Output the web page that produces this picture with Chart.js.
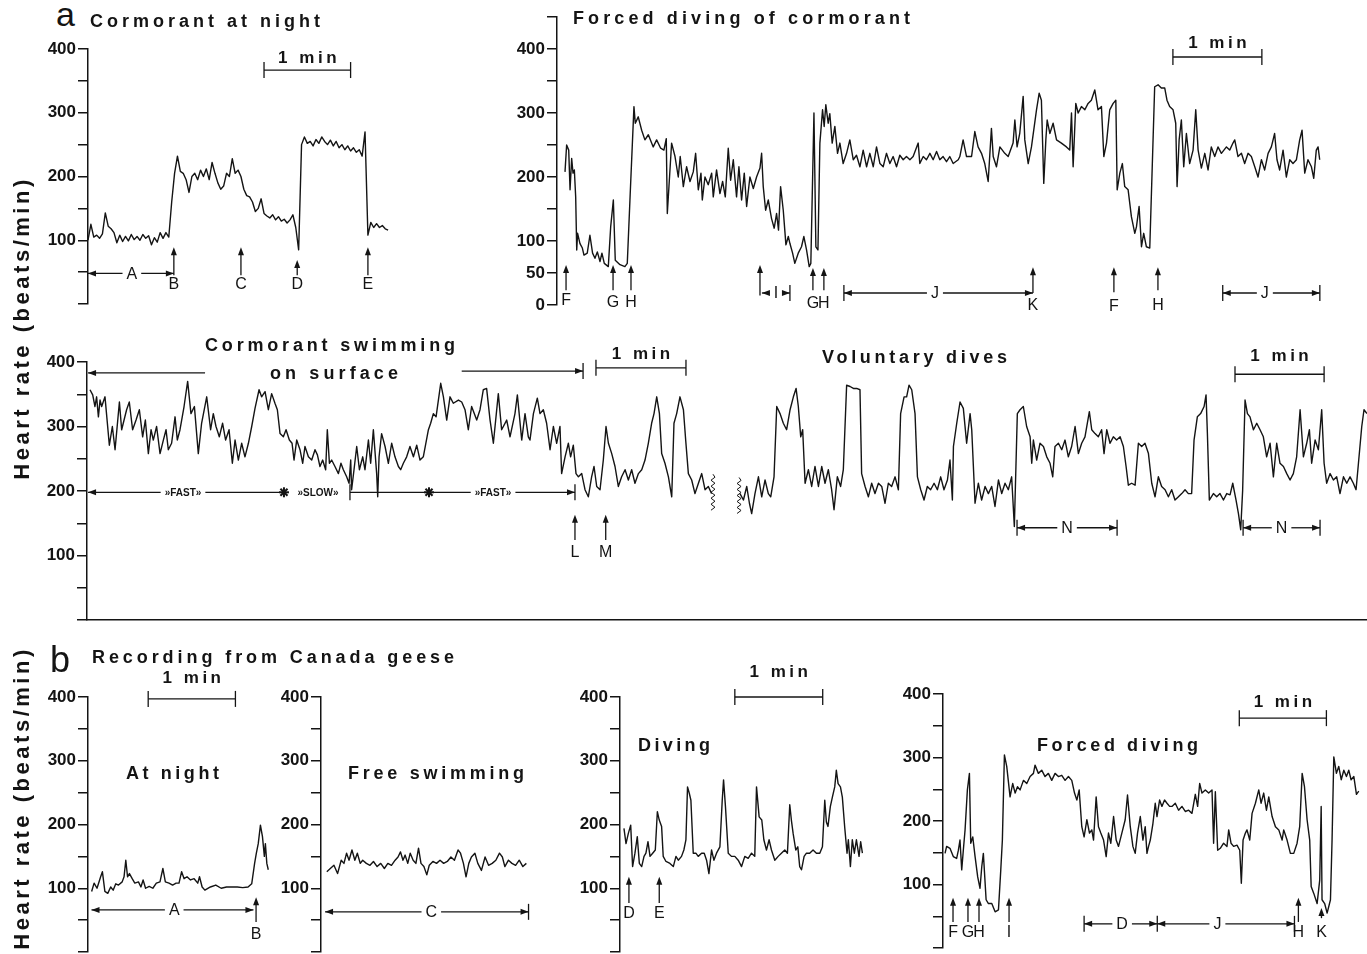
<!DOCTYPE html>
<html>
<head>
<meta charset="utf-8">
<script src="https://cdn.jsdelivr.net/npm/chart.js@4"></script>
<style>
  body { margin: 0; background: #fff; }
  #fig { position: relative; width: 1367px; height: 954px; overflow: hidden; background: #fff;
         font-family: "Liberation Sans", Arial, sans-serif; color: #141414; }
  #fig canvas { position: absolute; }
  .t { position: absolute; white-space: nowrap; line-height: 1; z-index: 2; }
</style>
</head>
<body>
<div id="fig"></div>
<script>
// ---- heart rate traces (time in s, heart rate in beats/min) ----

// a: cormorant at night, sampled every 2 s
const nightCormStep = 2;
const nightCormHR = [100,125,105,108,103,110,143,122,118,112,96,108,98,106,99,109,101,106,100,109,
  103,107,93,104,97,112,103,112,105,160,205,232,208,205,195,175,200,205,195,210,
  200,212,195,222,205,190,180,185,205,200,228,205,210,200,180,170,168,160,145,150,
  165,142,138,135,140,132,137,130,133,127,132,140,120,85,250,262,252,255,248,258,
  252,262,255,250,257,248,255,245,250,242,248,240,245,238,242,232,270,108,128,120,
  126,120,123,118,116];
const nightCormT = nightCormHR.map((_, i) => i * nightCormStep);

// a: forced diving of cormorant
const forcedCormT = [5.4,6.5,7.9,8.8,9.9,10.8,11.7,12.6,13.3,13.9,15.5,17.1,18.2,20.4,22.2,24.0,25.6,27.2,29.0,30.3,
  31.9,34.6,36.2,38.0,39.3,42.5,45.8,47.4,49.2,51.9,52.8,54.8,57.1,59.3,61.6,64.9,67.2,69.9,72.1,73.7,
  74.4,77.3,79.6,81.8,83.1,85.2,87.4,89.7,91.9,93.5,95.3,97.1,98.0,99.8,102.0,104.3,105.4,107.6,109.9,111.7,
  113.5,115.5,117.1,118.9,121.1,122.7,124.5,126.3,127.9,130.1,132.4,134.6,136.9,138.0,139.1,140.7,142.5,144.7,146.5,148.1,
  149.4,150.8,152.6,154.4,156.0,157.1,158.9,160.4,162.7,164.9,166.5,168.3,170.1,171.2,173.3,174.6,176.0,177.3,179.1,180.2,
  181.3,182.9,184.0,185.6,187.4,189.2,190.8,193.0,195.3,197.5,199.8,202.0,204.3,206.5,208.8,211.0,213.3,215.5,217.8,220.0,
  222.2,224.5,226.7,229.0,231.2,233.5,235.7,238.0,240.2,243.6,244.7,247.0,249.2,251.5,253.7,256.0,258.2,260.4,262.7,264.9,
  267.2,270.6,271.7,273.9,276.2,279.6,281.8,284.0,286.3,288.5,290.8,293.0,294.2,296.4,298.7,302.0,304.3,307.6,308.8,310.3,
  312.1,314.4,315.5,317.8,320.0,323.4,325.2,326.7,328.3,329.7,330.6,332.4,334.6,336.9,340.2,343.6,345.8,347.0,348.1,349.9,
  351.5,353.7,356.0,358.2,360.4,362.7,364.9,367.2,368.8,370.6,372.8,375.1,376.9,377.8,379.6,381.3,382.9,385.2,387.4,389.7,
  390.8,392.6,394.2,395.7,397.5,399.8,403.1,405.4,407.6,409.9,411.4,413.2,415.5,417.3,418.2,419.6,421.1,422.7,424.5,426.7,
  429.0,430.8,432.4,434.6,436.9,439.1,441.3,443.6,445.8,448.1,451.5,453.7,455.9,457.1,459.3,461.6,463.8,466.1,468.3,470.6,
  472.8,475.1,477.3,479.6,481.8,484.0,485.6,487.4,489.7,491.9,494.2,496.4,498.7,500.9,502.5,504.3,506.5,508.8,510.4,512.1,
  513.3,514.4];
const forcedCormHR = [208,250,242,180,229,206,211,169,86,112,96,89,78,81,109,81,73,83,68,81,
  65,60,122,164,70,63,60,65,164,310,284,294,273,258,266,247,258,245,242,260,
  143,253,232,200,232,185,216,193,208,237,180,206,164,200,188,206,169,211,174,193,
  169,245,195,227,169,216,164,206,154,200,182,200,214,237,185,148,164,135,120,143,
  117,185,148,94,107,96,81,65,81,91,107,86,60,65,300,91,86,253,305,279,
  313,284,299,253,279,237,253,221,237,258,227,234,216,242,216,237,216,247,221,216,
  237,221,232,216,234,227,232,227,232,253,221,232,227,237,227,240,227,232,224,232,
  221,227,232,258,232,232,271,247,237,221,193,276,232,216,247,237,232,253,289,247,
  268,326,258,221,247,305,331,320,190,258,289,268,284,258,253,247,242,300,216,315,
  300,310,305,315,320,336,305,310,232,253,305,315,320,180,206,221,185,180,138,112,
  122,154,91,112,91,89,341,344,339,339,320,310,305,284,185,258,289,216,268,221,
  242,305,242,214,237,211,247,232,247,237,247,242,253,258,232,237,221,237,232,216,
  200,227,211,237,247,268,227,211,242,200,227,221,227,258,273,206,227,216,198,242,
  247,227];

// a: cormorant swimming on surface
const swimT = [2.0,3.8,5.3,6.4,7.6,8.7,9.8,12.0,14.9,16.9,18.7,21.6,23.1,26.4,28.2,30.4,32.7,34.9,37.1,38.9,
  40.9,42.7,44.2,46.4,48.7,50.9,52.7,54.2,56.4,58.7,60.2,62.0,64.7,67.1,69.3,71.6,74.2,76.4,79.8,82.4,
  84.2,86.0,88.2,90.4,92.4,94.7,96.9,98.7,100.9,103.1,105.3,107.6,109.8,112.0,114.7,116.4,118.7,120.9,123.1,125.3,
  126.9,128.7,130.9,132.7,134.9,136.7,138.0,139.8,142.0,143.8,145.3,147.6,149.8,152.0,153.6,155.3,157.1,159.1,160.2,161.6,
  163.1,165.3,167.6,169.3,170.9,173.1,174.7,175.8,176.4,178.0,179.8,181.6,183.8,185.3,187.6,189.1,190.9,193.1,193.8,194.7,
  196.4,198.7,200.9,203.1,205.3,207.6,209.1,210.9,213.1,215.3,217.6,219.8,222.0,224.2,227.6,229.1,230.9,232.7,235.8,237.6,
  239.8,242.0,244.2,247.6,249.8,252.0,254.2,256.4,259.8,262.0,264.2,266.4,268.7,270.9,274.2,276.4,279.8,282.0,285.3,286.9,
  289.8,292.0,294.2,295.3,297.6,300.2,302.0,304.2,306.4,308.7,310.9,313.1,315.3,316.4,318.7,320.9,322.4,324.2,326.0,327.6,
  329.8,332.0,334.2,336.4,338.0,339.8,342.0,344.2,346.0,347.6,349.8,352.0,354.2,356.4,358.7,360.9,363.1,365.3,367.6,369.8,
  372.0,374.2,376.4,378.0,379.8,381.6,383.1,385.3,387.6,389.8,391.3,393.1,395.3,397.6,399.1,400.9,403.1,405.3,407.6,409.8,
  412.0,414.2,416.4];
const swimHR = [357,349,331,346,315,341,331,346,271,300,264,338,295,326,338,295,310,326,284,310,
  258,295,279,300,258,279,295,264,274,315,279,295,331,370,320,331,258,305,346,295,
  320,300,284,305,279,295,243,279,248,274,253,274,300,328,357,346,354,326,351,336,
  326,289,284,295,279,274,248,279,264,243,269,253,248,264,256,238,248,233,295,243,
  248,238,227,243,233,222,212,248,202,233,269,233,253,233,279,243,295,227,191,253,
  289,269,243,274,253,238,233,243,253,269,253,271,248,253,295,305,320,315,367,346,
  310,346,336,341,338,326,295,331,310,326,357,359,310,274,351,295,310,284,320,349,
  279,320,284,279,320,344,320,326,305,264,300,274,300,227,253,274,253,271,227,222,
  227,202,191,222,238,207,202,248,300,274,258,238,207,222,233,217,233,212,227,233,
  248,274,305,320,346,320,258,243,222,191,305,320,346,326,279,227,217,196,212,227,
  202,207,196];

// a: voluntary dives
const diveT = [435.3,437.6,439.8,441.6,443.1,445.3,447.6,449.8,452.0,454.2,455.8,458.0,459.8,462.0,464.2,466.4,468.7,470.9,472.7,474.2,
  475.8,477.1,478.7,480.9,483.1,485.3,487.6,489.8,492.0,494.2,496.4,498.0,500.2,502.4,504.2,506.4,508.7,510.9,513.1,515.3,
  516.4,518.7,520.9,523.1,525.3,527.6,529.8,532.0,534.2,536.4,538.7,540.9,542.4,544.7,546.4,548.0,549.8,552.0,553.6,555.8,
  558.0,560.2,562.4,564.7,566.9,569.1,571.3,573.6,575.3,576.9,577.6,579.8,582.0,584.2,586.4,588.7,
  589.8,592.0,594.2,596.4,598.7,600.9,603.1,605.3,607.6,609.8,612.0,614.2,616.4,618.2,620.2,622.0,624.2,626.4,628.7,629.8,
  630.9,633.1,635.3,637.6,639.8,642.0,643.8,645.3,647.6,649.8,652.0,654.2,656.4,658.7,660.9,663.1,665.3,668.2,669.8,672.0,
  674.2,676.4,678.0,679.8,682.0,684.2,686.4,688.7,690.9,692.7,694.2,696.4,698.7,700.9,703.1,705.3,707.6,709.8,712.0,714.2,
  716.4,718.7,720.9,723.1,725.3,727.6,729.8,732.0,734.2,736.4,738.0,740.2,742.4,744.7,746.0,746.9,748.2,750.9,753.1,755.3,
  757.6,759.8,762.0,763.8,766.0,767.6,769.1,770.4,772.0,773.6,775.3,777.6,779.8,782.0,784.2,786.4,788.7,790.9,793.1,795.3,
  797.6,799.8,802.0,804.2,806.4,808.7,810.9,813.1,814.9,816.4,818.7,820.9,823.1,824.7,826.4,828.7,830.9,833.1,835.3,837.6,
  839.8,842.0,844.2,846.0,847.6,849.8,851.3,853.3];
const diveHR = [196,186,207,181,165,196,222,191,217,196,191,222,331,320,305,295,326,346,359,331,
  284,295,212,233,207,238,207,238,212,233,202,171,222,207,233,364,362,359,359,357,
  227,207,191,212,196,212,207,181,212,207,222,202,320,346,346,364,357,320,222,202,
  186,207,202,212,202,222,202,217,248,186,269,305,338,328,274,320,
  295,181,212,186,207,196,207,176,217,196,212,202,222,145,320,326,331,300,284,243,
  279,248,274,269,253,243,222,269,274,264,279,253,269,300,258,274,284,323,295,289,
  284,295,258,295,274,284,279,284,269,238,209,212,209,274,269,274,258,212,191,222,
  207,202,191,202,186,191,196,202,196,196,279,315,320,331,349,289,186,196,191,196,
  186,196,194,212,186,165,140,201,341,320,315,295,305,295,284,253,274,222,274,243,
  238,227,217,227,253,326,253,274,295,243,279,264,326,243,212,227,217,222,196,222,
  212,222,212,202,243,300,326,320];

// b: Canada geese
const gooseNightT = [2.5,4.2,6.2,8.7,9.9,11.6,13.6,15.6,17.3,19.1,21.0,23.5,24.8,26.0,27.2,28.5,30.4,32.2,34.7,36.4,
  37.9,39.6,42.1,44.6,47.0,49.5,51.5,53.2,55.7,58.2,60.6,62.6,64.4,66.1,68.1,70.5,73.0,75.5,76.7,78.5,
  80.4,84.2,87.9,91.6,95.3,99.0,102.7,106.4,110.1,112.6,114.6,115.8,117.1,118.6,120.0,121.3,122.0,123.0,124.0];
const gooseNightHR = [95,108,100,118,126,95,92,102,97,107,105,110,118,144,118,123,115,108,110,102,
  113,100,103,100,108,110,131,110,108,105,108,108,126,115,118,113,115,108,118,102,
  97,102,105,100,102,102,102,101,102,107,139,155,170,199,181,150,170,139,129];

const gooseSwimT = [4.0,6.4,8.9,11.4,13.9,15.8,17.6,19.3,21.3,23.3,25.0,27.0,28.7,31.2,33.7,36.1,38.6,41.1,43.6,46.0,
  48.5,51.0,53.0,54.7,56.4,57.9,59.7,61.4,63.4,65.3,67.1,68.8,70.8,72.8,74.5,77.0,79.5,81.9,84.4,86.9,
  89.4,91.8,94.3,96.0,98.0,99.8,101.7,103.5,105.9,107.9,110.4,112.9,115.3,117.8,120.3,122.8,124.8,126.5,129.0,131.4,
  133.9,136.4,138.9,141.3];
const gooseSwimHR = [126,131,136,123,144,139,155,144,160,144,155,139,144,139,136,142,134,139,131,139,
  136,144,149,157,144,152,139,155,144,139,163,139,134,121,136,142,139,144,139,142,
  149,144,160,155,139,118,139,149,155,139,128,149,136,139,144,155,149,134,144,139,
  136,144,134,139];

const gooseDiveT = [2.7,4.1,5.7,7.3,8.6,10.2,11.8,13.2,14.8,16.4,17.7,19.1,20.5,22.3,24.1,25.5,26.8,28.4,29.5,31.4,
  34.1,36.4,38.2,39.8,42.0,43.6,45.0,46.1,47.3,48.4,50.0,51.8,53.4,55.7,57.5,59.1,60.7,62.5,64.1,65.9,
  68.2,69.8,70.7,72.0,73.9,76.1,78.4,80.7,83.0,85.2,87.5,89.8,92.0,93.2,95.0,96.8,98.2,100.0,101.8,103.4,
  105.7,108.0,110.2,112.5,114.3,115.9,117.0,118.2,120.0,121.4,122.7,123.9,125.7,127.3,129.5,131.8,134.1,136.4,138.2,139.8,
  140.9,142.0,143.6,145.0,146.6,147.7,148.9,150.5,151.8,153.4,155.0,155.9,157.3,158.6,160.0,161.4,163.2,164.3,165.5];
const gooseDiveHR = [194,170,186,199,134,155,181,139,134,150,155,173,150,155,160,220,207,197,150,142,
  139,134,150,144,150,160,176,259,249,238,155,155,150,155,155,144,123,160,144,155,
  165,238,270,228,155,150,150,144,134,150,147,155,150,259,212,207,176,160,176,160,
  144,150,155,160,155,231,207,186,160,165,134,129,150,155,155,160,155,155,165,238,
  204,197,228,243,259,285,264,259,243,196,155,176,134,176,155,176,150,173,155];

const gooseForcedT = [1.4,2.5,4.8,7.1,9.4,10.6,11.7,12.9,14.0,15.2,16.8,18.2,19.1,20.5,22.1,23.9,25.5,26.7,27.8,29.7,
  31.3,33.6,35.9,38.2,39.8,40.9,42.3,43.9,46.2,48.0,49.7,51.3,53.1,55.4,57.7,60.0,62.3,63.4,65.7,68.0,
  70.3,72.6,74.9,77.2,79.5,81.8,84.1,86.4,88.7,90.6,92.2,93.8,95.6,97.2,99.1,100.9,102.5,103.7,105.5,107.1,
  108.7,110.6,112.4,114.0,115.6,117.5,119.3,120.9,123.2,125.5,127.1,129.0,130.8,132.4,134.0,135.9,137.7,139.3,140.5,141.6,
  142.8,144.6,146.2,147.4,149.2,150.8,152.6,154.3,156.1,157.7,160.0,162.3,164.6,166.9,169.2,171.5,173.8,175.4,176.8,178.4,
  180.7,183.0,185.3,186.4,187.6,189.2,191.0,193.3,195.6,196.8,198.4,200.2,202.5,204.4,205.5,206.7,208.3,209.4,211.3,212.9,
  215.2,217.5,219.1,220.9,222.8,224.4,226.7,229.0,231.3,233.6,234.7,237.0,239.3,241.6,243.9,245.7,247.4,249.0,250.8,252.6,
  253.6,255.4,257.7,259.5,260.5,261.1,262.9,264.6,266.9,268.0,269.2,271.0,272.6,274.3,276.1,277.9,279.5,281.1,283.0,284.8,
  286.4];
const gooseForcedHR = [149,160,157,144,141,154,170,123,154,186,249,275,165,175,144,112,94,128,149,76,
  70,70,57,60,123,170,304,286,238,259,244,254,249,264,259,270,275,288,275,280,
  270,275,264,275,270,272,264,270,264,244,233,249,191,175,202,181,186,170,238,191,
  181,170,144,181,165,207,170,160,181,202,241,191,160,149,181,207,170,191,149,160,
  170,196,228,207,233,223,233,228,223,223,228,217,223,215,217,212,242,223,259,244,
  249,244,249,165,246,154,157,165,160,186,165,160,162,154,102,170,181,186,170,212,
  228,249,228,244,217,238,207,191,186,170,186,170,149,149,165,191,275,254,202,170,
  97,86,70,107,223,76,70,55,76,170,301,275,286,265,280,270,280,265,270,242,
  247];

// labelled y ticks
const yLabelsStd = [100, 200, 300, 400];
const yLabelsForced = [0, 50, 100, 200, 300, 400];

// event markers, in data units: [time, base hr, tip hr, letter, letter hr]
// spans: [t0, t1, hr, label, left end, right end, font, label time]
// scale bars (1 min): [t0, t1, hr, label hr]

const ink = '#141414';
const LETTER = '16px "Liberation Sans", Arial, sans-serif';
const SMALL = 'bold 10px "Liberation Sans", Arial, sans-serif';
const MINFONT = 'bold 17px "Liberation Sans", Arial, sans-serif';

const panels = [
  { id: 'nightCorm', axisX: 88, top: 49, bottom: 304, yMax: 400, xMax: 210, pxPerMin: 86.7,
    padTop: 14, padBottom: 24, padRight: 8, labels: yLabelsStd,
    series: [[nightCormT, nightCormHR]],
    marks: {
      arrows: [[59.5, 45, 89, 'B', 30], [106, 45, 89, 'C', 30], [145, 45, 69, 'D', 30], [194, 45, 89, 'E', 30]],
      spans: [[0, 59.5, 48, 'A', 'arrow', 'arrow', LETTER, 30.4]],
      bars: [[122, 182, 367, 386]]
    } },
  { id: 'forcedCorm', axisX: 557, top: 17, bottom: 305, yMax: 450, xMax: 520, pxPerMin: 89,
    padTop: 14, padBottom: 24, padRight: 8, labels: yLabelsForced,
    series: [[forcedCormT, forcedCormHR]],
    marks: {
      arrows: [[6.1, 23, 62.5, 'F', 7], [37.8, 23, 62.5, 'G', 4.5], [49.9, 23, 62.5, 'H', 4.5],
               [136.9, 15, 62.5, '', 0], [172.6, 23, 58, 'G', 2.5], [180, 23, 58, 'H', 2.5],
               [321, 18.75, 59, 'K', -1.6], [375.6, 20, 59, 'F', -2.5], [405.3, 23, 59, 'H', -1.6]],
      spans: [[138.2, 157.1, 18.75, 'I', 'arrow', 'arrowbar', LETTER],
              [193.5, 321, 18.75, 'J', 'arrowbar', 'arrow', LETTER, 254.9],
              [449, 514.5, 18.75, 'J', 'arrowbar', 'arrowbar', LETTER, 477.4]],
      bars: [[415.4, 475.4, 387.5, 409]]
    } },
  { id: 'swim', axisX: 87, top: 362, bottom: 620, yMax: 400, xMax: 853.3, pxPerMin: 90,
    padTop: 32, padBottom: 14, padRight: 0, labels: yLabelsStd, xLine: true,
    series: [[swimT, swimHR], [diveT, diveHR]],
    marks: {
      arrows: [[325.3, 124, 163, 'L', 105], [345.8, 124, 163, 'M', 105]],
      spans: [[0.7, 78.7, 383, '', 'arrow', 'none'],
              [249.8, 330.7, 386, '', 'none', 'arrowbar'],
              [0.7, 131.3, 198, '\u00bbFAST\u00bb', 'arrow', 'none', SMALL, 64],
              [175.3, 228, 198, '', 'bar', 'none'],
              [228, 325.3, 198, '\u00bbFAST\u00bb', 'none', 'arrowbar', SMALL, 270.7],
              [620, 686.7, 143, 'N', 'arrowbar', 'arrowbar', LETTER],
              [770.7, 822, 143, 'N', 'arrowbar', 'arrowbar', LETTER]],
      stars: [[131.3, 198], [228, 198]],
      texts: [[154, 198, '\u00bbSLOW\u00bb', SMALL]],
      breaks: [[417.3, 226, 166], [434.7, 221, 162]],
      bars: [[339.3, 399.3, 391, 412], [765.3, 824.7, 381, 409]]
    } },
  { id: 'gooseNight', axisX: 88, top: 697, bottom: 952, yMax: 400, xMax: 130, pxPerMin: 87,
    padTop: 36, padBottom: 14, padRight: 8, labels: yLabelsStd,
    series: [[gooseNightT, gooseNightHR]],
    marks: {
      arrows: [[115.6, 47, 86, 'B', 27]],
      spans: [[2.4, 113.8, 66, 'A', 'arrow', 'arrow', LETTER, 59.3]],
      bars: [[41.4, 101.4, 397, 430]]
    } },
  { id: 'gooseSwim', axisX: 321, top: 697, bottom: 952, yMax: 400, xMax: 150, pxPerMin: 87,
    padTop: 14, padBottom: 14, padRight: 8, labels: yLabelsStd,
    series: [[gooseSwimT, gooseSwimHR]],
    marks: {
      spans: [[2.8, 142.8, 63, 'C', 'arrow', 'arrowbar', LETTER, 75.9]]
    } },
  { id: 'gooseDive', axisX: 620, top: 697, bottom: 952, yMax: 400, xMax: 170, pxPerMin: 88,
    padTop: 36, padBottom: 14, padRight: 8, labels: yLabelsStd,
    series: [[gooseDiveT, gooseDiveHR]],
    marks: {
      arrows: [[6.1, 77, 118, 'D', 61], [26.8, 77, 118, 'E', 61]],
      bars: [[78.4, 138.4, 400, 438]]
    } },
  { id: 'gooseForced', axisX: 943, top: 694, bottom: 948, yMax: 400, xMax: 290, pxPerMin: 87,
    padTop: 14, padBottom: 14, padRight: 4, labels: yLabelsStd,
    series: [[gooseForcedT, gooseForcedHR]],
    marks: {
      arrows: [[6.9, 41, 79, 'F', 24], [17.2, 41, 79, 'G', 24], [24.8, 41, 79, 'H', 24], [45.5, 41, 79, 'I', 24],
               [244.8, 41, 79, 'H', 24], [260.7, 47, 63, 'K', 24]],
      spans: [[97.2, 147.6, 38, 'D', 'arrowbar', 'arrowbar', LETTER, 123.4],
              [147.6, 242.1, 38, 'J', 'arrow', 'arrowbar', LETTER, 189]],
      bars: [[204.1, 264.1, 362, 387]]
    } }
];

// panel titles: text, left, centre y, size, fitted width (0 = natural), weight
const titles = [
  ['a', 56, 14, 34, 0, 'normal'],
  ['Cormorant at night', 90, 21, 18, 230, 'bold'],
  ['Forced diving of cormorant', 573, 18, 18, 337, 'bold'],
  ['Cormorant swimming', 205, 345, 18, 250, 'bold'],
  ['on surface', 270, 373, 18, 128, 'bold'],
  ['Voluntary dives', 822, 357, 18, 185, 'bold'],
  ['b', 50, 659, 36, 0, 'normal'],
  ['Recording from Canada geese', 92, 657, 18, 362, 'bold'],
  ['At night', 126, 773, 18, 93, 'bold'],
  ['Free swimming', 348, 773, 18, 176, 'bold'],
  ['Diving', 638, 745, 18, 72, 'bold'],
  ['Forced diving', 1037, 745, 18, 161, 'bold']
];
const yTitle = 'Heart rate (beats/min)';
const yTitleSpots = [[22, 328], [22, 798]];

// ---- drawing helpers ----
function head(ctx, x, y, dx, dy) {
  const L = 8, W = 3;
  ctx.beginPath();
  ctx.moveTo(x, y);
  ctx.lineTo(x - dx * L - dy * W, y - dy * L - dx * W);
  ctx.lineTo(x - dx * L + dy * W, y - dy * L + dx * W);
  ctx.closePath();
  ctx.fill();
}
function seg(ctx, x0, y0, x1, y1) {
  ctx.beginPath(); ctx.moveTo(x0, y0); ctx.lineTo(x1, y1); ctx.stroke();
}
function spaced(ctx, text, cx, cy, sp) {
  const chars = [...text];
  const ws = chars.map(c => ctx.measureText(c).width);
  const total = ws.reduce((a, b) => a + b, 0) + sp * (chars.length - 1);
  let x = cx - total / 2;
  ctx.textAlign = 'left';
  chars.forEach((c, i) => { ctx.fillText(c, x, cy); x += ws[i] + sp; });
  ctx.textAlign = 'center';
}
function spanEnd(ctx, x, y, kind, dir) {
  if (kind === 'arrow' || kind === 'arrowbar') head(ctx, x, y, dir, 0);
  if (kind === 'bar' || kind === 'arrowbar') seg(ctx, x, y - 8, x, y + 8);
}

const marksPlugin = {
  id: 'marks',
  afterDatasetsDraw(chart) {
    const p = panels.find(q => q.id === chart.canvas.id);
    const m = p.marks;
    const ctx = chart.ctx;
    const X = t => chart.scales.x.getPixelForValue(t);
    const Y = v => chart.scales.y.getPixelForValue(v);
    ctx.save();
    ctx.strokeStyle = ink; ctx.fillStyle = ink; ctx.lineWidth = 1.3;
    ctx.textAlign = 'center'; ctx.textBaseline = 'middle';

    (m.arrows || []).forEach(([t, v0, v1, lab, vl]) => {
      const x = X(t);
      seg(ctx, x, Y(v0), x, Y(v1) + 4);
      head(ctx, x, Y(v1), 0, -1);
      if (lab) { ctx.font = LETTER; ctx.fillText(lab, x, Y(vl)); }
    });
    (m.spans || []).forEach(([t0, t1, v, lab, le, re, font, tl]) => {
      const x0 = X(t0), x1 = X(t1), y = Y(v);
      ctx.font = font || LETTER;
      const cx = tl !== undefined ? X(tl) : (x0 + x1) / 2;
      const half = lab ? ctx.measureText(lab).width / 2 + 4 : 0;
      if (lab) {
        seg(ctx, x0, y, cx - half, y); seg(ctx, cx + half, y, x1, y);
        ctx.fillText(lab, cx, y + 1);
      } else seg(ctx, x0, y, x1, y);
      spanEnd(ctx, x0, y, le, -1);
      spanEnd(ctx, x1, y, re, 1);
    });
    (m.texts || []).forEach(([t, v, s, font]) => { ctx.font = font; ctx.fillText(s, X(t), Y(v) + 1); });
    (m.stars || []).forEach(([t, v]) => {
      const x = X(t), y = Y(v);
      ctx.save(); ctx.lineWidth = 2;
      for (let k = 0; k < 4; k++) {
        const a = k * Math.PI / 4;
        seg(ctx, x - 5 * Math.cos(a), y - 5 * Math.sin(a), x + 5 * Math.cos(a), y + 5 * Math.sin(a));
      }
      ctx.restore();
    });
    (m.breaks || []).forEach(([t, v0, v1]) => {
      const x = X(t), ya = Y(v0), yb = Y(v1);
      ctx.save(); ctx.lineWidth = 1;
      ctx.beginPath(); ctx.moveTo(x, ya);
      let k = 0;
      for (let y = ya + 3; y <= yb; y += 3) ctx.lineTo(x + (k++ % 2 ? -2 : 2), y);
      ctx.stroke(); ctx.restore();
    });
    (m.bars || []).forEach(([t0, t1, v, vl]) => {
      const x0 = X(t0), x1 = X(t1), y = Y(v);
      seg(ctx, x0, y, x1, y);
      seg(ctx, x0, y - 8, x0, y + 8);
      seg(ctx, x1, y - 8, x1, y + 8);
      ctx.font = MINFONT;
      spaced(ctx, '1 min', (x0 + x1) / 2, Y(vl), 3.5);
    });
    ctx.restore();
  }
};

// ---- build the charts ----
Chart.defaults.font.family = '"Liberation Sans", Arial, sans-serif';
Chart.defaults.color = ink;
const fig = document.getElementById('fig');
const AXIS_W = 70;

panels.forEach(p => {
  const c = document.createElement('canvas');
  c.id = p.id;
  const plotW = Math.round(p.xMax * p.pxPerMin / 60);
  c.width = AXIS_W + plotW + p.padRight;
  c.height = p.padTop + (p.bottom - p.top) + p.padBottom;
  c.style.left = (p.axisX - AXIS_W) + 'px';
  c.style.top = (p.top - p.padTop) + 'px';
  fig.appendChild(c);
  new Chart(c, {
    type: 'line',
    data: {
      datasets: p.series.map(([ts, hs]) => ({
        data: ts.map((t, i) => ({ x: t, y: hs[i] })),
        borderColor: ink, borderWidth: 1.4, pointRadius: 0, tension: 0,
        borderJoinStyle: 'round', fill: false
      }))
    },
    options: {
      responsive: false, animation: false, events: [],
      layout: { padding: { top: p.padTop, bottom: p.padBottom, left: 0, right: p.padRight } },
      plugins: { legend: { display: false }, tooltip: { enabled: false } },
      scales: {
        x: { type: 'linear', min: 0, max: p.xMax, display: !!p.xLine,
             ticks: { display: false }, grid: { display: false, drawTicks: false },
             border: { display: true, color: ink, width: 1.5 } },
        y: { min: 0, max: p.yMax,
             afterFit: s => { s.width = AXIS_W; },
             ticks: { stepSize: 50, autoSkip: false, padding: 2, color: ink,
                      font: { size: 17, weight: 'bold' },
                      callback: v => p.labels.includes(v) ? String(v) : '' },
             grid: { drawOnChartArea: false, drawTicks: true, tickLength: 10, color: ink, lineWidth: 1.5 },
             border: { display: true, color: ink, width: 1.5 } }
      }
    },
    plugins: [marksPlugin]
  });
});

// ---- titles as text ----
const mctx = document.createElement('canvas').getContext('2d');
function letterSpacingFor(text, size, weight, width) {
  if (!width) return 0;
  mctx.font = `${weight} ${size}px "Liberation Sans", Arial, sans-serif`;
  return (width - mctx.measureText(text).width) / (text.length - 1);
}
titles.forEach(([text, x, y, size, width, weight]) => {
  const d = document.createElement('div');
  d.className = 't';
  d.textContent = text;
  d.style.fontSize = size + 'px';
  d.style.fontWeight = weight;
  d.style.letterSpacing = letterSpacingFor(text, size, weight, width) + 'px';
  d.style.left = x + 'px';
  d.style.top = (y - 0.486 * size) + 'px';
  fig.appendChild(d);
});
yTitleSpots.forEach(([x, y]) => {
  const d = document.createElement('div');
  d.className = 't';
  d.textContent = yTitle;
  d.style.fontSize = '22px';
  d.style.fontWeight = 'bold';
  d.style.letterSpacing = letterSpacingFor(yTitle, 22, 'bold', 300) + 'px';
  d.style.left = x + 'px';
  d.style.top = y + 'px';
  d.style.transform = 'translate(-50%, -50%) rotate(-90deg)';
  fig.appendChild(d);
});
</script>
</body>
</html>
